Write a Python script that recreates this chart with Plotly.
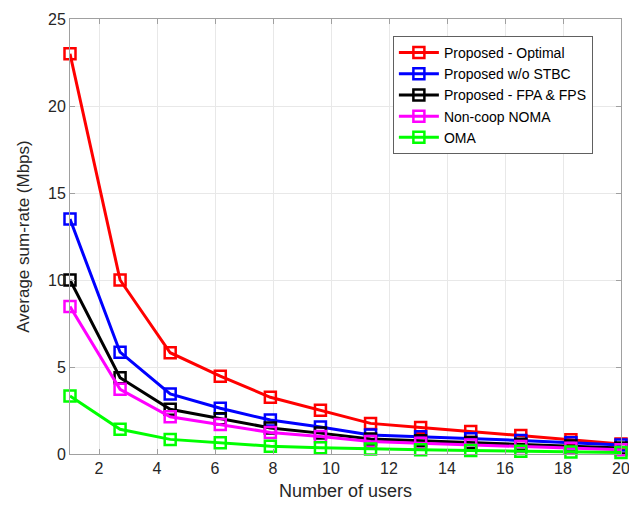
import plotly.graph_objects as go

users = [1, 2.727, 4.455, 6.182, 7.909, 9.636, 11.364, 13.091, 14.818, 16.545, 18.273, 20]

proposed_optimal = [23.0, 10.0, 5.82, 4.47, 3.26, 2.52, 1.76, 1.53, 1.3, 1.07, 0.82, 0.58]
proposed_wo_stbc = [13.5, 5.85, 3.45, 2.63, 1.95, 1.55, 1.09, 0.99, 0.88, 0.78, 0.64, 0.52]
proposed_fpa_fps = [10.0, 4.38, 2.57, 2.03, 1.5, 1.2, 0.86, 0.76, 0.66, 0.56, 0.46, 0.34]
noncoop_noma = [8.47, 3.72, 2.14, 1.69, 1.24, 1.0, 0.72, 0.62, 0.52, 0.43, 0.33, 0.24]
oma = [3.33, 1.42, 0.84, 0.65, 0.45, 0.36, 0.29, 0.24, 0.2, 0.16, 0.12, 0.09]

series = [
    ("Proposed - Optimal", proposed_optimal, "#ff0000"),
    ("Proposed w/o STBC", proposed_wo_stbc, "#0000ff"),
    ("Proposed - FPA & FPS", proposed_fpa_fps, "#000000"),
    ("Non-coop NOMA", noncoop_noma, "#ff00ff"),
    ("OMA", oma, "#00ff00"),
]

fig = go.Figure()
for name, vals, col in series:
    fig.add_trace(go.Scatter(
        x=users, y=vals, name=name, mode="lines+markers",
        line=dict(color=col, width=3),
        marker=dict(symbol="square-open", size=11, color=col, line=dict(width=2.5, color=col)),
        cliponaxis=False,
    ))

font = "Liberation Sans, Arial, sans-serif"
axis_common = dict(
    showline=True, linecolor="#a0a0a0", linewidth=1, mirror="ticks",
    ticks="inside", ticklen=5, tickcolor="#a0a0a0",
    showgrid=True, gridcolor="#e8e8e8", gridwidth=1, zeroline=False,
    tickfont=dict(family=font, size=16, color="#262626"),
    ticklabeloverflow="allow", automargin=False,
)
fig.update_layout(
    width=629, height=505,
    margin=dict(l=70, r=8, t=19, b=51),
    paper_bgcolor="white", plot_bgcolor="white",
    font=dict(family=font, color="#262626"),
    xaxis=dict(range=[1, 20.0001], tickvals=[2, 4, 6, 8, 10, 12, 14, 16, 18, 20],
               title=dict(text="Number of users", font=dict(family=font, size=18, color="#262626"), standoff=8),
               **axis_common),
    yaxis=dict(range=[0, 25.0001], tickvals=[0, 5, 10, 15, 20, 25],
               title=dict(text="Average sum-rate (Mbps)", font=dict(family=font, size=17, color="#262626"), standoff=14),
               **axis_common),
    legend=dict(x=0.586, y=0.961, xanchor="left", yanchor="top",
                bgcolor="white", bordercolor="#606060", borderwidth=1,
                font=dict(family=font, size=14, color="#000000"),
                itemwidth=40, tracegroupgap=0),
    showlegend=True,
)
fig.write_html("out.html")
